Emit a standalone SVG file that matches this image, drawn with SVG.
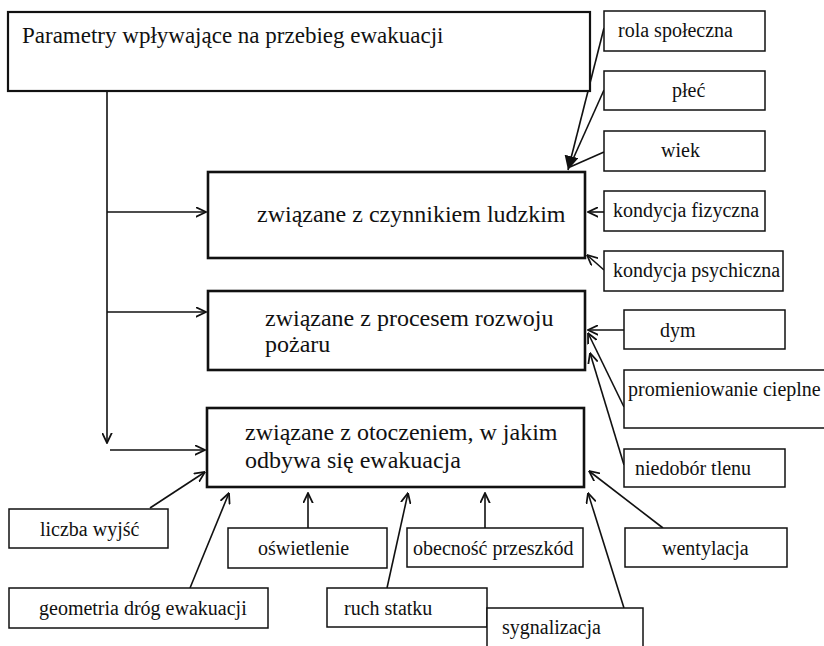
<svg xmlns="http://www.w3.org/2000/svg" width="824" height="646" viewBox="0 0 824 646">
<style>
  text { font-family: "Liberation Serif", "Times New Roman", serif; fill: #111; }
  .t1 { font-size: 23px; }
  .t2 { font-size: 24px; }
  .t3 { font-size: 20px; }
  .big { fill: #fff; stroke: #111; stroke-width: 2.6; }
  .top { fill: #fff; stroke: #111; stroke-width: 2.2; }
  .small { fill: #fff; stroke: #111; stroke-width: 1.5; }
  .c { stroke: #111; stroke-width: 1.6; fill: none; }
</style>
<defs>
  <marker id="open" viewBox="0 0 10 10" refX="9.5" refY="5" markerWidth="11" markerHeight="11" markerUnits="userSpaceOnUse" orient="auto">
    <path d="M0,0.5 L9.5,5 L0,9.5" fill="none" stroke="#111" stroke-width="1.6"/>
  </marker>
  <marker id="filled" viewBox="0 0 10 10" refX="10" refY="5" markerWidth="14" markerHeight="14" markerUnits="userSpaceOnUse" orient="auto">
    <path d="M0,0 L10,5 L0,10 Z" fill="#111"/>
  </marker>
</defs>
<rect width="824" height="646" fill="#fff"/>

<g id="connectors">
  <line class="c" x1="107" y1="91" x2="107" y2="443" marker-end="url(#open)"/>
  <line class="c" x1="107" y1="212" x2="206" y2="212" marker-end="url(#open)"/>
  <line class="c" x1="107" y1="312" x2="206" y2="312" marker-end="url(#open)"/>
  <line class="c" x1="110" y1="450" x2="205" y2="450" marker-end="url(#open)"/>
  <line class="c" x1="604" y1="28" x2="568" y2="170" marker-end="url(#filled)"/>
  <line class="c" x1="604" y1="90" x2="569" y2="168"/>
  <line class="c" x1="604" y1="152" x2="570" y2="167"/>
  <line class="c" x1="604" y1="212" x2="588" y2="212" marker-end="url(#open)"/>
  <line class="c" x1="604" y1="270" x2="587" y2="255" marker-end="url(#open)"/>
  <line class="c" x1="624" y1="330" x2="588" y2="330" marker-end="url(#open)"/>
  <line class="c" x1="624" y1="407" x2="588" y2="333" marker-end="url(#open)"/>
  <line class="c" x1="624" y1="465" x2="590" y2="353" marker-end="url(#open)"/>
  <line class="c" x1="150" y1="508" x2="205" y2="472" marker-end="url(#open)"/>
  <line class="c" x1="308" y1="528" x2="308" y2="493" marker-end="url(#open)"/>
  <line class="c" x1="485" y1="528" x2="485" y2="493" marker-end="url(#open)"/>
  <line class="c" x1="190" y1="588" x2="229" y2="493" marker-end="url(#open)"/>
  <line class="c" x1="387" y1="588" x2="408" y2="493" marker-end="url(#open)"/>
  <line class="c" x1="624" y1="608" x2="588" y2="493" marker-end="url(#open)"/>
  <line class="c" x1="663" y1="528" x2="589" y2="471" marker-end="url(#open)"/>
</g>

<g id="main">
  <rect class="top" x="8" y="12" width="582" height="79"/>
  <text class="t1" x="22" y="43">Parametry wpływające na przebieg ewakuacji</text>
</g>
<g id="ludzki">
  <rect class="big" x="208" y="172" width="377" height="86"/>
  <text class="t2" x="257" y="222">związane z czynnikiem ludzkim</text>
</g>
<g id="pozar">
  <rect class="big" x="208" y="291" width="377" height="79"/>
  <text class="t2" x="265" y="326">związane z procesem rozwoju</text>
  <text class="t2" x="265" y="352">pożaru</text>
</g>
<g id="otoczenie">
  <rect class="big" x="207" y="408" width="377" height="79"/>
  <text class="t2" x="245" y="440">związane z otoczeniem, w jakim</text>
  <text class="t2" x="245" y="468">odbywa się ewakuacja</text>
</g>

<g id="rola">
  <rect class="small" x="604" y="11" width="161" height="40"/>
  <text class="t3" x="618" y="37">rola społeczna</text>
</g>
<g id="plec">
  <rect class="small" x="604" y="71" width="161" height="39"/>
  <text class="t3" x="672" y="97">płeć</text>
</g>
<g id="wiek">
  <rect class="small" x="604" y="131" width="161" height="40"/>
  <text class="t3" x="661" y="157">wiek</text>
</g>
<g id="fizyczna">
  <rect class="small" x="604" y="191" width="161" height="40"/>
  <text class="t3" x="613" y="217">kondycja fizyczna</text>
</g>
<g id="psychiczna">
  <rect class="small" x="604" y="251" width="179" height="40"/>
  <text class="t3" x="613" y="277">kondycja psychiczna</text>
</g>
<g id="dym">
  <rect class="small" x="624" y="310" width="161" height="39"/>
  <text class="t3" x="660" y="337">dym</text>
</g>
<g id="promieniowanie">
  <rect class="small" x="624" y="370" width="210" height="58"/>
  <text class="t3" x="628" y="396">promieniowanie cieplne</text>
</g>
<g id="niedobor">
  <rect class="small" x="624" y="449" width="161" height="38"/>
  <text class="t3" x="635" y="475">niedobór tlenu</text>
</g>

<g id="liczba">
  <rect class="small" x="9" y="509" width="159" height="39"/>
  <text class="t3" x="40" y="536">liczba wyjść</text>
</g>
<g id="oswietlenie">
  <rect class="small" x="228" y="528" width="159" height="40"/>
  <text class="t3" x="258" y="555">oświetlenie</text>
</g>
<g id="przeszkody">
  <rect class="small" x="407" y="528" width="176" height="39"/>
  <text class="t3" x="413" y="555">obecność przeszkód</text>
</g>
<g id="wentylacja">
  <rect class="small" x="625" y="528" width="162" height="39"/>
  <text class="t3" x="662" y="555">wentylacja</text>
</g>
<g id="geometria">
  <rect class="small" x="9" y="588" width="259" height="40"/>
  <text class="t3" x="39" y="615">geometria dróg ewakuacji</text>
</g>
<g id="ruch">
  <rect class="small" x="327" y="588" width="160" height="39"/>
  <text class="t3" x="344" y="615">ruch statku</text>
</g>
<g id="sygnalizacja">
  <rect class="small" x="487" y="608" width="156" height="50"/>
  <text class="t3" x="502" y="634">sygnalizacja</text>
</g>
</svg>
